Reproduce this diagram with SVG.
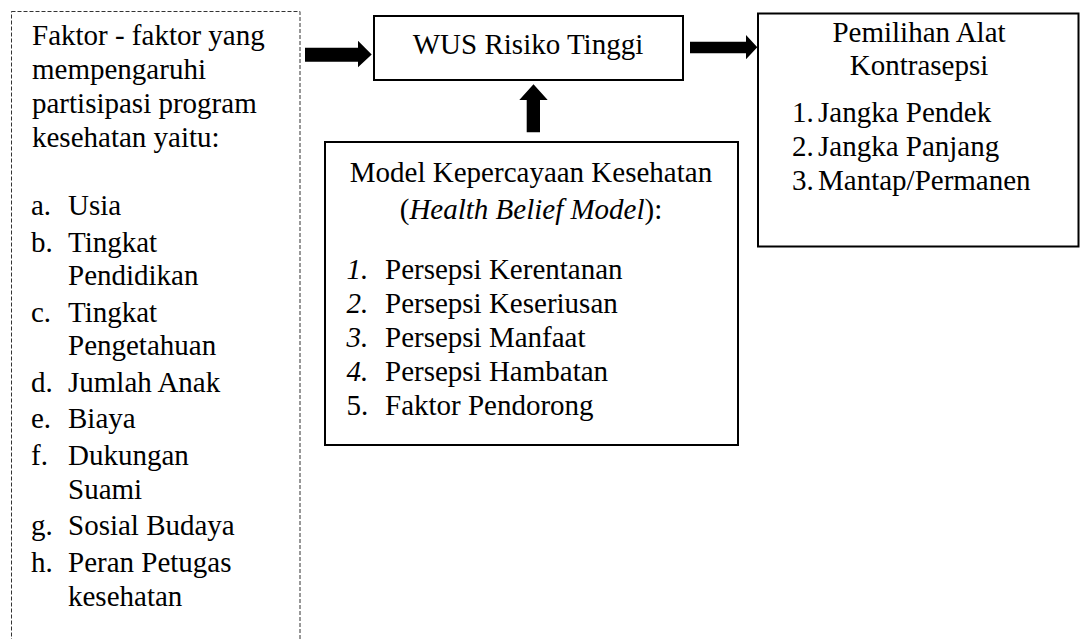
<svg xmlns="http://www.w3.org/2000/svg" width="1081" height="639" viewBox="0 0 1081 639" font-family="Liberation Serif, Times New Roman, serif" font-size="29">
<style>
.box{fill:#fff;stroke:#000;stroke-width:2}
.dash{fill:none;stroke:#333;stroke-width:1;stroke-dasharray:4 2}
.arr{fill:#000;stroke:none}
.c{text-anchor:middle}
.i{font-style:italic}
</style>
<rect width="1081" height="639" fill="#fff"/>
<g id="faktor">
<rect class="dash" x="11.5" y="11.5" width="288.5" height="660"/>
<text x="32" y="45">Faktor - faktor yang</text>
<text x="32" y="79">mempengaruhi</text>
<text x="32" y="113">partisipasi program</text>
<text x="32" y="147">kesehatan yaitu:</text>
<text x="31" y="215">a.</text><text x="68" y="215">Usia</text>
<text x="31" y="251.5">b.</text><text x="68" y="251.5">Tingkat</text>
<text x="68" y="285">Pendidikan</text>
<text x="31" y="321.5">c.</text><text x="68" y="321.5">Tingkat</text>
<text x="68" y="355">Pengetahuan</text>
<text x="31" y="391.5">d.</text><text x="68" y="391.5">Jumlah Anak</text>
<text x="31" y="428">e.</text><text x="68" y="428">Biaya</text>
<text x="31" y="465">f.</text><text x="68" y="465">Dukungan</text>
<text x="68" y="498.5">Suami</text>
<text x="31" y="535">g.</text><text x="68" y="535">Sosial Budaya</text>
<text x="31" y="571.5">h.</text><text x="68" y="571.5">Peran Petugas</text>
<text x="68" y="606">kesehatan</text>
</g>
<g id="wus">
<rect class="box" x="374" y="16" width="309" height="64"/>
<text class="c" x="528" y="53.5">WUS Risiko Tinggi</text>
</g>
<g id="hbm">
<rect class="box" x="325" y="142" width="413" height="303"/>
<text class="c" x="531" y="181.5">Model Kepercayaan Kesehatan</text>
<text class="c" x="531" y="218.5">(<tspan class="i">Health Belief Model</tspan>):</text>
<text class="i" x="346.5" y="278.5">1.</text><text x="385" y="278.5">Persepsi Kerentanan</text>
<text class="i" x="346.5" y="313">2.</text><text x="385" y="313">Persepsi Keseriusan</text>
<text class="i" x="346.5" y="347">3.</text><text x="385" y="347">Persepsi Manfaat</text>
<text class="i" x="346.5" y="381">4.</text><text x="385" y="381">Persepsi Hambatan</text>
<text x="346.5" y="415">5.</text><text x="385" y="415">Faktor Pendorong</text>
</g>
<g id="pemilihan">
<rect class="box" x="758" y="13.5" width="320.5" height="233"/>
<text class="c" x="919" y="41.5">Pemilihan Alat</text>
<text class="c" x="919" y="75">Kontrasepsi</text>
<text x="792" y="121.5">1.</text><text x="818" y="121.5">Jangka Pendek</text>
<text x="792" y="156">2.</text><text x="818" y="156">Jangka Panjang</text>
<text x="792" y="190">3.</text><text x="818" y="190">Mantap/Permanen</text>
</g>
<g id="connectors">
<polygon class="arr" points="305,47.7 358,47.7 358,40.7 371.7,54.5 358,67.3 358,61.7 305,61.7"/>
<polygon class="arr" points="690,41.7 746,41.7 746,35 757.3,47.2 746,59.3 746,53.3 690,53.3"/>
<polygon class="arr" points="526.7,132.3 526.7,100 519.3,100 533.5,84.3 547.7,100 540,100 540,132.3"/>
</g>
</svg>
